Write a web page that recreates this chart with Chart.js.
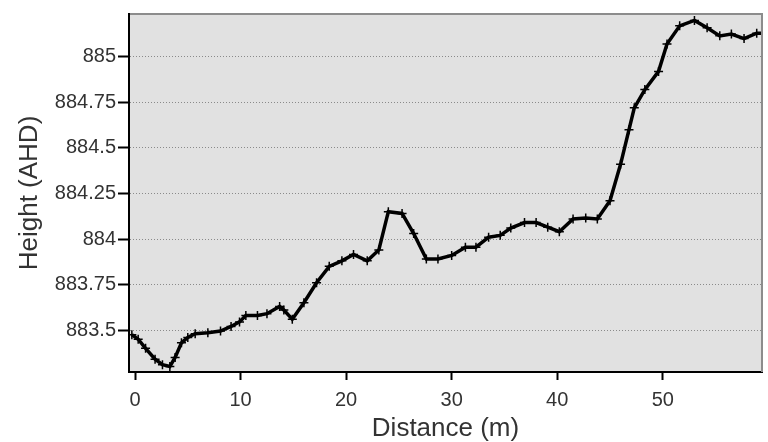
<!DOCTYPE html>
<html>
<head>
<meta charset="utf-8">
<title>Height profile</title>
<script src="https://cdn.jsdelivr.net/npm/chart.js@4.4.0/dist/chart.umd.min.js"></script>
<style>
    html, body { margin: 0; padding: 0; background: #fff; }
    #wrap { width: 768px; height: 442px; }
</style>
</head>
<body>
<div id="wrap"><canvas id="profileChart" width="768" height="442"></canvas></div>
<script>
const distances = [
    -0.3, 0.3, 1.0, 1.9, 2.6, 3.3, 3.8, 4.4, 5.0, 5.7,
    6.9, 8.1, 9.1, 9.9, 10.5, 11.6, 12.5, 13.7, 14.1, 14.9,
    16.0, 17.2, 18.4, 19.6, 20.7, 22.0, 23.1, 24.0, 25.3, 26.4,
    27.6, 28.7, 30.0, 31.3, 32.3, 33.5, 34.6, 35.6, 36.9, 38.0,
    39.1, 40.2, 41.5, 42.7, 43.8, 45.0, 46.0, 46.8, 47.3, 48.3,
    49.6, 50.4, 51.6, 53.0, 54.2, 55.4, 56.5, 57.7, 58.9, 59.4
];
const heights = [
    883.475, 883.45, 883.40, 883.34, 883.31, 883.30, 883.35, 883.43, 883.46, 883.48,
    883.485, 883.495, 883.52, 883.545, 883.58, 883.58, 883.59, 883.63, 883.61, 883.56,
    883.65, 883.76, 883.85, 883.88, 883.915, 883.88, 883.94, 884.15, 884.14, 884.03,
    883.89, 883.89, 883.91, 883.955, 883.955, 884.01, 884.02, 884.06, 884.09, 884.09,
    884.065, 884.04, 884.11, 884.115, 884.11, 884.21, 884.41, 884.60, 884.72, 884.82,
    884.92, 885.07, 885.17, 885.20, 885.16, 885.115, 885.125, 885.10, 885.13, 885.13
];
const xTicks = [0, 10, 20, 30, 40, 50];
const yTicks = [883.5, 883.75, 884, 884.25, 884.5, 884.75, 885];

const xMin = -0.57, xMax = 59.4;
const yMin = 883.27, yMax = 885.235;

// Fondo gris del área de trazado y marco (gris arriba/derecha, negro izquierda)
const plotFrame = {
    id: 'plotFrame',
    beforeDraw(chart) {
        const a = chart.chartArea, ctx = chart.ctx;
        ctx.save();
        ctx.fillStyle = '#e1e1e1';
        ctx.fillRect(a.left, a.top, a.right - a.left, a.bottom - a.top);
        ctx.restore();
    },
    afterDraw(chart) {
        const a = chart.chartArea, ctx = chart.ctx;
        ctx.save();
        ctx.strokeStyle = '#8c8c8c';
        ctx.lineWidth = 2;
        ctx.beginPath();
        ctx.moveTo(a.left, a.top);
        ctx.lineTo(a.right, a.top);
        ctx.lineTo(a.right, a.bottom);
        ctx.stroke();
        ctx.strokeStyle = '#000';
        ctx.beginPath();
        ctx.moveTo(a.left, a.top - 1);
        ctx.lineTo(a.left, a.bottom + 1);
        ctx.stroke();
        ctx.restore();
    }
};

const tickFont = { family: 'Arial, "Liberation Sans", sans-serif', size: 20 };
const titleFont = { family: 'Arial, "Liberation Sans", sans-serif', size: 26, lineHeight: 1 };

new Chart(document.getElementById('profileChart').getContext('2d'), {
    type: 'line',
    data: {
        datasets: [{
            label: 'Height',
            data: distances.map((d, i) => ({ x: d, y: heights[i] })),
            borderColor: '#000',
            borderWidth: 3.5,
            pointStyle: 'cross',
            pointRadius: 4.5,
            pointBorderColor: '#000',
            pointBorderWidth: 1.5,
            tension: 0
        }]
    },
    options: {
        responsive: false,
        animation: false,
        devicePixelRatio: 1,
        layout: { padding: { top: 13, right: 3, left: 0, bottom: 0 } },
        plugins: {
            legend: { display: false },
            tooltip: { enabled: false }
        },
        scales: {
            x: {
                type: 'linear',
                min: xMin,
                max: xMax,
                afterBuildTicks: scale => { scale.ticks = xTicks.map(v => ({ value: v })); },
                afterFit: scale => { scale.height = 70; },
                grid: {
                    drawOnChartArea: false,
                    drawTicks: true,
                    tickLength: 8,
                    tickColor: '#000',
                    tickWidth: 2
                },
                border: { color: '#000', width: 2 },
                ticks: {
                    color: '#333',
                    font: tickFont,
                    padding: 8,
                    maxRotation: 0,
                    callback: v => String(v)
                },
                title: {
                    display: true,
                    text: 'Distance (m)',
                    color: '#333',
                    font: titleFont,
                    padding: { top: 0, bottom: 0 }
                }
            },
            y: {
                type: 'linear',
                min: yMin,
                max: yMax,
                afterBuildTicks: scale => { scale.ticks = yTicks.map(v => ({ value: v })); },
                afterFit: scale => { scale.width = 129; },
                grid: {
                    color: '#8a8a8a',
                    lineWidth: 1,
                    drawTicks: true,
                    tickLength: 11,
                    tickColor: '#000',
                    tickWidth: 2,
                    tickBorderDash: [1, 0]
                },
                border: { color: '#000', width: 2, dash: [1, 2] },
                ticks: {
                    color: '#333',
                    font: tickFont,
                    padding: 2,
                    callback: v => String(v)
                },
                title: {
                    display: true,
                    text: 'Height (AHD)',
                    color: '#333',
                    font: titleFont,
                    padding: { top: 17, bottom: 0 }
                }
            }
        }
    },
    plugins: [plotFrame]
});
</script>
</body>
</html>
